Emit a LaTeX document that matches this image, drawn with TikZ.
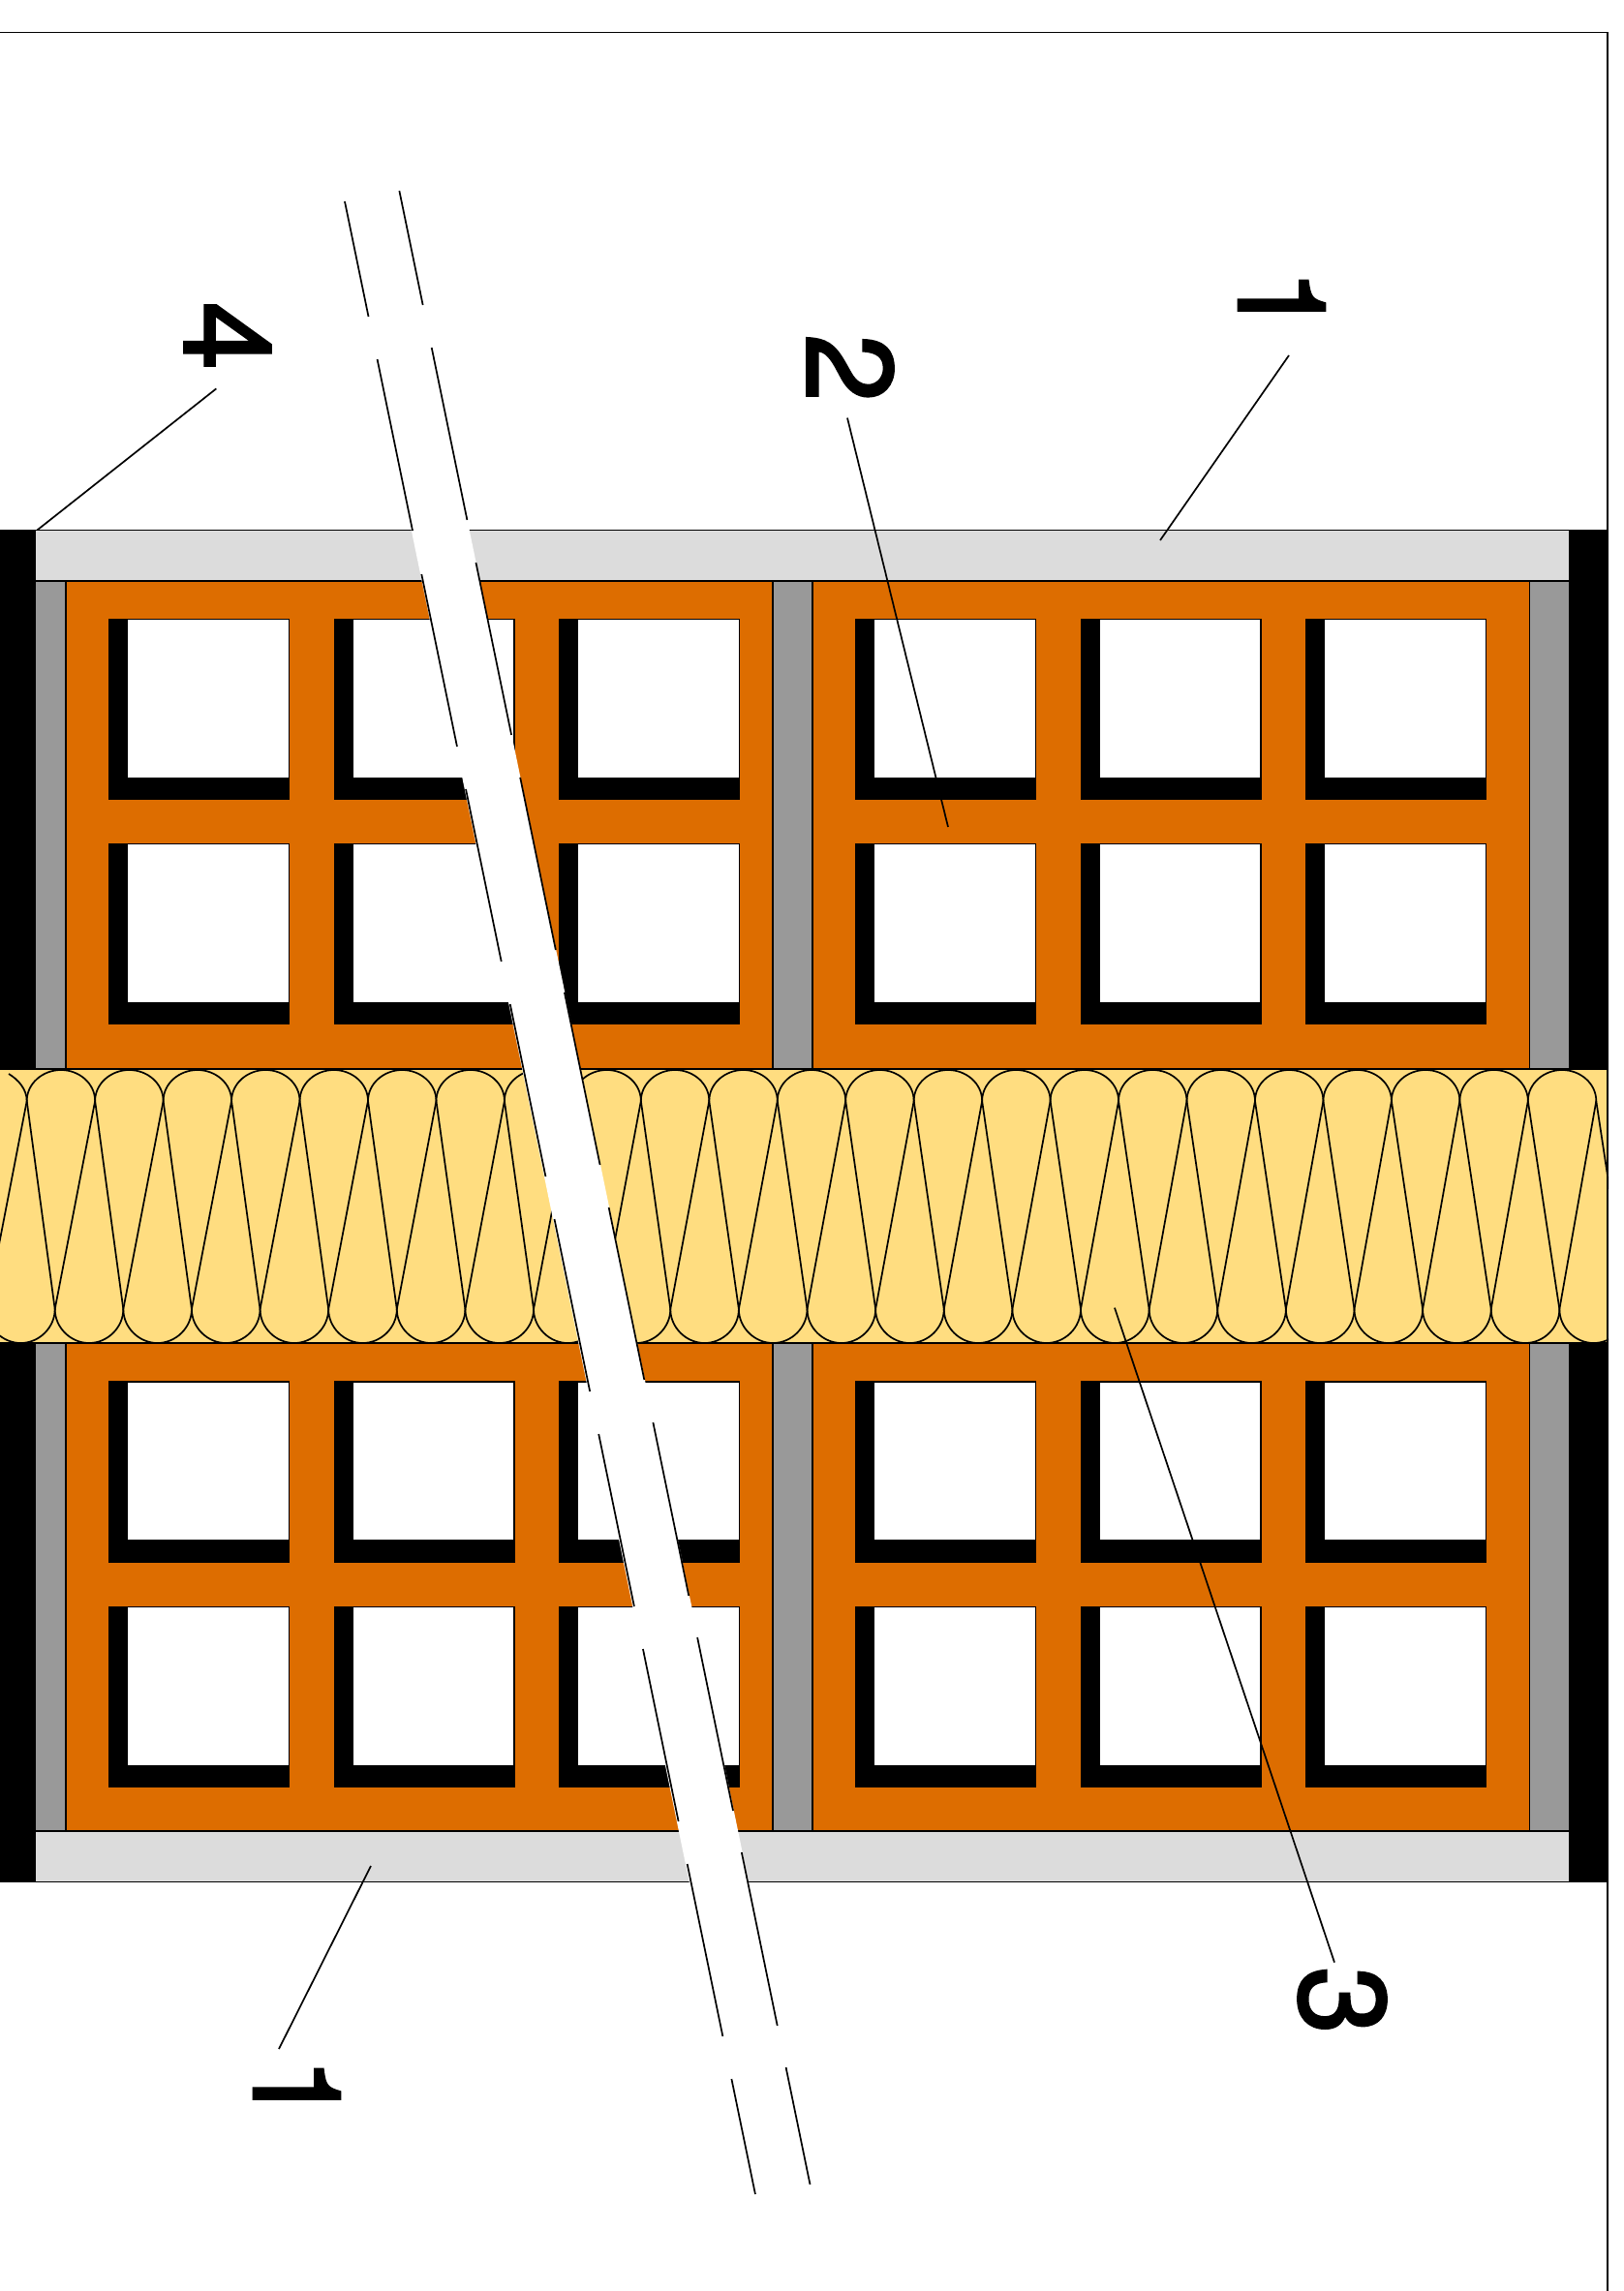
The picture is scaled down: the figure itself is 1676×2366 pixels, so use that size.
\documentclass[tikz,border=0pt]{standalone}
\usepackage{fontspec}
\setmainfont{TeX Gyre Heros}
\newfontfamily\digitfont[FakeBold=2]{TeX Gyre Heros}
\definecolor{brick}{RGB}{221,109,0}
\definecolor{wool}{RGB}{255,221,128}
\definecolor{plaster}{RGB}{220,220,220}
\definecolor{mortar}{RGB}{153,153,153}
\tikzset{
  thin line/.style={line width=1.7pt,black},
  panel/.style={draw=black,line width=1.7pt},
  digit/.style={rotate=-90,inner sep=0pt,font=\digitfont\fontsize{126}{126}\selectfont},
}
\begin{document}
\begin{tikzpicture}[x=1pt,y=-1pt]
\useasboundingbox (0,0) rectangle (1676,2366);
\fill[white] (0,0) rectangle (1676,2366);
% frame
\draw[thin line] (0,33.5) -- (1660.2,33.5) -- (1660.2,2366);
% black end strips
\fill[black] (0,547) rectangle (36,1944);
\fill[black] (1621,547) rectangle (1661,1944);
% plaster
\draw[panel,fill=plaster] (36,547.5) rectangle (1621,600);
\draw[panel,fill=plaster] (36,1891) rectangle (1621,1943.5);
% mortar strips and brick bodies
\foreach \ya/\yb in {600/1104,1387/1891}{
  \draw[panel,fill=mortar] (36,\ya) rectangle (1621,\yb);
  \draw[panel,fill=brick] (68,\ya) rectangle (798,\yb);
  \draw[panel,fill=brick] (839,\ya) rectangle (1579.5,\yb);
}
% cavities
\foreach \cx in {112,344.5,577,883,1115.5,1348}{
  \foreach \cy in {638.5,870.5,1426,1658.5}{
    \fill[black] (\cx,\cy) rectangle ++(187,187.5);
    \fill[white] (\cx+20,\cy+1.5) rectangle ++(165.5,162.5);
  }
}
% insulation
\begin{scope}
\clip (0,1100) rectangle (1661,1390);
\draw[panel,fill=wool] (-5,1104) rectangle (1660.2,1387.3);
\foreach \k in {-1,...,23}{
  \pgfmathsetmacro{\tx}{27.7+70.46*\k}
  \pgfmathsetmacro{\bx}{56.7+70.62*\k}
  \pgfmathsetmacro{\by}{56.7+70.62*(\k-1)}
  \draw[thin line] (\tx,1137) -- (\bx,1352);
  \draw[thin line] (\tx,1137) -- (\by,1352);
  \draw[thin line] (\bx,1352) .. controls (\bx,1371) and (\bx+16.3,1387) .. (\bx+35.31,1387)
     .. controls (\bx+54.3,1387) and (\bx+70.62,1371) .. (\bx+70.62,1352);
}
\foreach \k in {0,...,22}{
  \pgfmathsetmacro{\tx}{27.7+70.46*\k}
  \draw[thin line] (\tx,1137) .. controls (\tx,1119) and (\tx+16.3,1105) .. (\tx+35.23,1105)
     .. controls (\tx+54.2,1105) and (\tx+70.46,1119) .. (\tx+70.46,1137);
}
\draw[thin line] (9,1109) .. controls (19,1115) and (27.7,1125) .. (27.7,1137);
\end{scope}
% break strip (cut through the wall)
\fill[white] (355,208) -- (414.6,208) -- (837.5,2256) -- (778,2266) -- cycle;
\foreach \a/\b in {208/327,371/548,593/771,815/993,1037/1215,1259/1437,1481/1659,1703/1881,1925/2103,2147/2266}{
  \draw[thin line] ({356+0.206*(\a-208)},\a) -- ({356+0.206*(\b-208)},\b);
}
\foreach \a/\b in {197/315,359/537,581/759,803/981,1025/1203,1247/1425,1469/1648,1691/1870,1913/2092,2135/2256}{
  \draw[thin line] ({412.3+0.206*(\a-196.7)},\a) -- ({412.3+0.206*(\b-196.7)},\b);
}
% labels
\node[digit] (lfour) at (235,347) {4};
\node[digit] (ltwo) at (878,380) {2};
\node[digit] (lonetop) at (1323.5,312) {1};
\node[digit] (lthree) at (1386,2066) {3};
\node[digit] (lonebot) at (306.5,2159) {1};
\coordinate (efour) at (38.6,547.3);
\coordinate (etwo) at (979,854);
\coordinate (eonetop) at (1198,558);
\coordinate (ethree) at (1151,1350.6);
\coordinate (eonebot) at (383,1927);
\coordinate (sfour) at (223.3,401.4);
\coordinate (stwo) at (875,431.6);
\coordinate (sonetop) at (1331,367);
\coordinate (sthree) at (1378,2026.6);
\coordinate (sonebot) at (288,2116);
\draw[thin line] (sfour) -- (efour);
\draw[thin line] (stwo) -- (etwo);
\draw[thin line] (sonetop) -- (eonetop);
\draw[thin line] (sthree) -- (ethree);
\draw[thin line] (sonebot) -- (eonebot);
\end{tikzpicture}
\end{document}
